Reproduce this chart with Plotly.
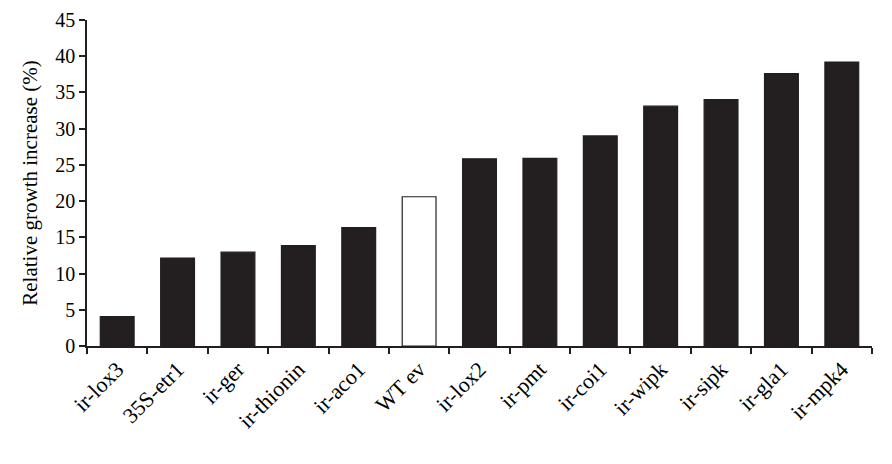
import plotly.graph_objects as go

# Relative growth increase per line
lines = ["ir-lox3", "35S-etr1", "ir-ger", "ir-thionin", "ir-aco1", "WT ev", "ir-lox2",
         "ir-pmt", "ir-coi1", "ir-wipk", "ir-sipk", "ir-gla1", "ir-mpk4"]
growth = [4.05, 12.15, 12.95, 13.85, 16.35, 20.6, 25.85, 25.9, 29.0, 33.1, 34.0, 37.6, 39.2]

dark = "#231f20"
fill = ["white" if n == "WT ev" else dark for n in lines]

fig = go.Figure()
fig.add_trace(go.Bar(x=lines, y=growth, marker=dict(color=fill, line=dict(color=dark, width=1.2))))

fig.update_xaxes(showline=True, linecolor=dark, linewidth=1.5, ticks="outside", tickson="boundaries",
                 ticklen=6, tickcolor=dark, tickwidth=1.5, tickangle=-45, showgrid=False,
                 tickfont=dict(family="Liberation Serif", size=22, color="black"))
fig.update_yaxes(range=[0, 45], dtick=5, showline=True, linecolor=dark, linewidth=1.5, ticks="outside",
                 ticklen=6, tickcolor=dark, tickwidth=1.5, showgrid=False, zeroline=False,
                 tickfont=dict(family="Liberation Serif", size=20, color="black"),
                 title=dict(text="Relative growth increase (%)", standoff=12,
                            font=dict(family="Liberation Serif", size=21, color="black")))

# page body adds an 8px offset, so the figure is drawn 8px smaller
fig.update_layout(width=884, height=456, margin=dict(l=79, r=20, t=12, b=118, autoexpand=False),
                  plot_bgcolor="white", paper_bgcolor="white", bargap=0.44, showlegend=False)
fig.write_html("out.html")
